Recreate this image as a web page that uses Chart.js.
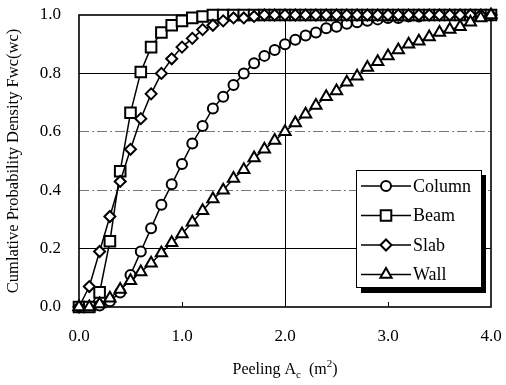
<!DOCTYPE html>
<html>
<head>
<meta charset="utf-8">
<script src="https://cdn.jsdelivr.net/npm/chart.js@4"></script>
<style>
  html, body { margin: 0; padding: 0; background: #fff; }
  #wrap { width: 506px; height: 385px; position: relative; }
</style>
</head>
<body>
<div id="wrap"><canvas id="chart"></canvas></div>
<script>
// ── Data ────────────────────────────────────────────────────────────────────
const areas = [0.0, 0.1, 0.2, 0.3, 0.4, 0.5, 0.6, 0.7, 0.8, 0.9,
  1.0, 1.1, 1.2, 1.3, 1.4, 1.5, 1.6, 1.7, 1.8, 1.9,
  2.0, 2.1, 2.2, 2.3, 2.4, 2.5, 2.6, 2.7, 2.8, 2.9,
  3.0, 3.1, 3.2, 3.3, 3.4, 3.5, 3.6, 3.7, 3.8, 3.9, 4.0]

const column = [0, 0, 0.005, 0.02, 0.05, 0.11, 0.19, 0.27, 0.35, 0.42,
  0.49, 0.56, 0.62, 0.68, 0.72, 0.76, 0.80, 0.835, 0.86, 0.88,
  0.90, 0.915, 0.93, 0.94, 0.955, 0.96, 0.97, 0.975, 0.98, 0.985,
  0.99, 0.99, 0.995, 0.995, 1, 1, 1, 1, 1, 1, 1]

const beam = [0, 0, 0.05, 0.225, 0.465, 0.665, 0.805, 0.89, 0.94, 0.965,
  0.98, 0.99, 0.995, 1, 1, 1, 1, 1, 1, 1,
  1, 1, 1, 1, 1, 1, 1, 1, 1, 1,
  1, 1, 1, 1, 1, 1, 1, 1, 1, 1, 1]

const slab = [0, 0.07, 0.19, 0.31, 0.43, 0.54, 0.645, 0.73, 0.80, 0.85,
  0.89, 0.92, 0.95, 0.965, 0.98, 0.99, 0.99, 0.995, 1, 1,
  1, 1, 1, 1, 1, 1, 1, 1, 1, 1,
  1, 1, 1, 1, 1, 1, 1, 1, 1, 1, 1]

const wall = [0, 0, 0.01, 0.03, 0.06, 0.09, 0.12, 0.15, 0.185, 0.22,
  0.25, 0.29, 0.33, 0.37, 0.40, 0.44, 0.47, 0.51, 0.54, 0.57,
  0.60, 0.63, 0.66, 0.69, 0.72, 0.74, 0.77, 0.79, 0.82, 0.84,
  0.86, 0.88, 0.90, 0.91, 0.925, 0.94, 0.95, 0.96, 0.975, 0.99, 1.0]

const seriesNames = ['Column', 'Beam', 'Slab', 'Wall']
const xTicks = [0, 1, 2, 3, 4]
const yTicks = [0, 0.2, 0.4, 0.6, 0.8, 1.0]

const SERIF = '"Liberation Serif", "Times New Roman", serif'

// ── Helpers ─────────────────────────────────────────────────────────────────
function pts(values) {
  return areas.map((x, i) => ({ x, y: values[i] }))
}

function series(label, values, style, radius, order) {
  return {
    label,
    data: pts(values),
    showLine: true,
    borderColor: '#000',
    borderWidth: 1.5,
    backgroundColor: '#fff',
    pointStyle: style,
    pointRadius: radius,
    pointBorderWidth: 2,
    pointBorderColor: '#000',
    pointBackgroundColor: '#fff',
    tension: 0,
    clip: false,
    order
  }
}

const near = (a, b) => Math.abs(a - b) < 1e-6

// ── Plugins: frame, x title, legend ─────────────────────────────────────────
const framePlugin = {
  id: 'frame',
  beforeDatasetsDraw(chart) {
    const { ctx, chartArea: a, scales } = chart
    ctx.save()
    ctx.strokeStyle = '#000'
    ctx.lineWidth = 1.6
    ctx.strokeRect(a.left, a.top, a.right - a.left, a.bottom - a.top)
    // small inner ticks on the bottom axis
    ctx.lineWidth = 1
    for (const v of [1, 3]) {
      const x = Math.round(scales.x.getPixelForValue(v)) + 0.5
      ctx.beginPath()
      ctx.moveTo(x, a.bottom)
      ctx.lineTo(x, a.bottom - 5)
      ctx.stroke()
    }
    ctx.restore()
  }
}

const xTitlePlugin = {
  id: 'xTitle',
  afterDraw(chart) {
    const { ctx, chartArea: a } = chart
    const parts = [
      { t: 'Peeling A', size: 16, dy: 0 },
      { t: 'c', size: 11, dy: 4 },
      { t: '  (m', size: 16, dy: 0 },
      { t: '2', size: 11, dy: -7 },
      { t: ')', size: 16, dy: 0 }
    ]
    ctx.save()
    ctx.fillStyle = '#000'
    ctx.textBaseline = 'alphabetic'
    let w = 0
    for (const p of parts) { ctx.font = `${p.size}px ${SERIF}`; w += ctx.measureText(p.t).width }
    let x = (a.left + a.right) / 2 - w / 2
    const y = 374
    for (const p of parts) {
      ctx.font = `${p.size}px ${SERIF}`
      ctx.fillText(p.t, x, y + p.dy)
      x += ctx.measureText(p.t).width
    }
    ctx.restore()
  }
}

const legendPlugin = {
  id: 'boxLegend',
  afterDraw(chart) {
    const { ctx } = chart
    const box = { l: 356, t: 170, r: 482, b: 288 }
    ctx.save()
    // drop shadow
    ctx.fillStyle = '#000'
    ctx.fillRect(box.r, box.t + 5, 4, box.b - box.t)
    ctx.fillRect(box.l + 5, box.b, box.r - box.l - 1, 5)
    ctx.fillStyle = '#fff'
    ctx.fillRect(box.l, box.t, box.r - box.l, box.b - box.t)
    ctx.strokeStyle = '#000'
    ctx.lineWidth = 1
    ctx.strokeRect(box.l + 0.5, box.t + 0.5, box.r - box.l - 1, box.b - box.t - 1)

    const byLabel = {}
    chart.data.datasets.forEach(d => { byLabel[d.label] = d })
    seriesNames.forEach((name, i) => {
      const ds = byLabel[name]
      const y = 186 + i * 29.5
      ctx.strokeStyle = '#000'
      ctx.lineWidth = 1.5
      ctx.beginPath()
      ctx.moveTo(361, y)
      ctx.lineTo(411, y)
      ctx.stroke()
      ctx.fillStyle = '#fff'
      ctx.lineWidth = 2
      Chart.helpers.drawPoint(ctx, {
        pointStyle: ds.pointStyle, radius: ds.pointRadius, rotation: 0, borderWidth: 2
      }, 386, y)
      ctx.fillStyle = '#000'
      ctx.font = `18px ${SERIF}`
      ctx.textBaseline = 'middle'
      ctx.fillText(name, 413, y + 1)
    })
    ctx.restore()
  }
}

// ── Chart ───────────────────────────────────────────────────────────────────
const gridColor = v => {
  if (near(v, 0.2) || near(v, 0.8)) return '#000'
  if (near(v, 0.4) || near(v, 0.6)) return '#777'
  return 'rgba(0,0,0,0)'
}

new Chart(document.getElementById('chart'), {
  type: 'scatter',
  data: {
    datasets: [
      series('Column', column, 'circle', 5, 3),
      series('Beam', beam, 'rect', 7.5, 2),
      series('Slab', slab, 'rectRot', 5.5, 1),
      series('Wall', wall, 'triangle', 6.5, 0)
    ]
  },
  options: {
    responsive: true,
    maintainAspectRatio: false,
    animation: false,
    layout: { padding: { left: 0, right: 15, top: 15, bottom: 0 } },
    plugins: { legend: { display: false }, tooltip: { enabled: false } },
    scales: {
      x: {
        type: 'linear',
        min: 0,
        max: 4,
        afterBuildTicks: s => { s.ticks = xTicks.map(value => ({ value })) },
        afterFit: s => { s.height = 78; s.paddingLeft = 0; s.paddingRight = 0 },
        ticks: {
          color: '#000',
          font: { family: SERIF, size: 17 },
          padding: 19,
          maxRotation: 0,
          callback: v => v.toFixed(1)
        },
        grid: {
          drawTicks: false,
          color: c => (c.tick && near(c.tick.value, 2)) ? '#000' : 'rgba(0,0,0,0)',
          lineWidth: 1
        },
        border: { display: false }
      },
      y: {
        min: 0,
        max: 1,
        afterBuildTicks: s => { s.ticks = yTicks.map(value => ({ value })) },
        afterFit: s => { s.width = 79; s.paddingTop = 0; s.paddingBottom = 0 },
        ticks: {
          color: '#000',
          font: { family: SERIF, size: 17 },
          padding: 18,
          callback: v => v.toFixed(1)
        },
        grid: {
          drawTicks: false,
          color: c => c.tick ? gridColor(c.tick.value) : 'rgba(0,0,0,0)',
          lineWidth: 1
        },
        border: {
          display: false,
          dash: c => (c.tick && (near(c.tick.value, 0.4) || near(c.tick.value, 0.6))) ? [10, 3, 2, 3] : []
        },
        title: {
          display: true,
          text: 'Cumlative Probability Density Fwc(wc)',
          color: '#000',
          font: { family: SERIF, size: 16.5 },
          padding: { top: 4, bottom: 0 }
        }
      }
    }
  },
  plugins: [framePlugin, xTitlePlugin, legendPlugin]
})
</script>
</body>
</html>
